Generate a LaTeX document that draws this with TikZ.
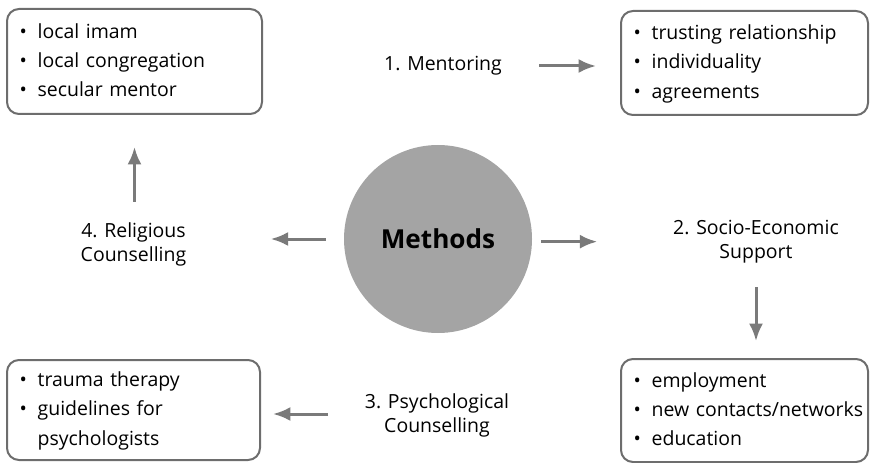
\documentclass[tikz,border=0pt]{standalone}
\usepackage{fontspec}
\setmainfont{Open Sans}
\usetikzlibrary{arrows.meta}
\definecolor{boxgray}{HTML}{6D6D6D}
\definecolor{arrowgray}{HTML}{7A7A7A}
\definecolor{circgray}{HTML}{A4A4A4}
\newcommand{\blist}[1]{\begin{tabular}{@{}l@{\hspace{8pt}}l@{}}#1\end{tabular}}

\begin{document}
\begin{tikzpicture}[
  x=0.75pt,y=-0.75pt,
  font=\fontsize{14.6}{22}\selectfont,
  >={Latex[length=13pt,width=10.5pt]},
  listbox/.style={draw=boxgray,line width=1.5pt,rounded corners=9pt,inner xsep=9.5pt,inner ysep=0pt,align=left},
  flow/.style={->,draw=arrowgray,line width=2.25pt},
  lbl/.style={align=center,font=\fontsize{14.6}{18}\selectfont}
]
\useasboundingbox (0,0) rectangle (873,463);

\node[circle,fill=circgray,minimum size=141pt,inner sep=0pt,font=\fontsize{19.6}{24}\selectfont\bfseries] (meth) at (438,239) {Methods};

\node[listbox,text width=172.25pt,minimum height=78.75pt] (tl) at (134.5,61.5)
 {\blist{\textbullet & local imam\\ \textbullet & local congregation\\ \textbullet & secular mentor}};
\node[listbox,text width=166.25pt,minimum height=78pt] (tr) at (744.5,63)
 {\blist{\textbullet & trusting relationship\\ \textbullet & individuality\\ \textbullet & agreements}};
\node[listbox,text width=166.25pt,minimum height=77.25pt] (br) at (744.5,410.5)
 {\blist{\textbullet & employment\\ \textbullet & new contacts/networks\\ \textbullet & education}};
\node[listbox,text width=170.75pt,minimum height=75pt] (bl) at (133.5,410)
 {\blist{\textbullet & trauma therapy\\ \textbullet & guidelines for\\ & psychologists}};

\node[lbl] (l1) at (443,66) {1. Mentoring};
\node[lbl] (l2) at (756,241.5) {2. Socio-Economic\\Support};
\node[lbl] (l3) at (437,415) {3. Psychological\\Counselling};
\node[lbl] (l4) at (133.5,244) {4. Religious\\Counselling};

\draw[flow] ([xshift=-60.75pt]l1.east -| tr.west) -- ([xshift=-18pt]l1.east -| tr.west);
\draw[flow] ([xshift=6.75pt,yshift=-2pt]meth.east) -- ([xshift=48.75pt,yshift=-2pt]meth.east);
\draw[flow] ([yshift=53.25pt]br.north -| l2) -- ([yshift=12.75pt]br.north -| l2);
\draw[flow] ([xshift=50.25pt,yshift=-3pt]bl.east) -- ([xshift=9pt,yshift=-3pt]bl.east);
\draw[flow] ([xshift=-13.5pt]meth.west) -- ([xshift=-54.75pt]meth.west);
\draw[flow] ([yshift=-65.25pt]tl.south) -- ([yshift=-24pt]tl.south);
\end{tikzpicture}
\end{document}
